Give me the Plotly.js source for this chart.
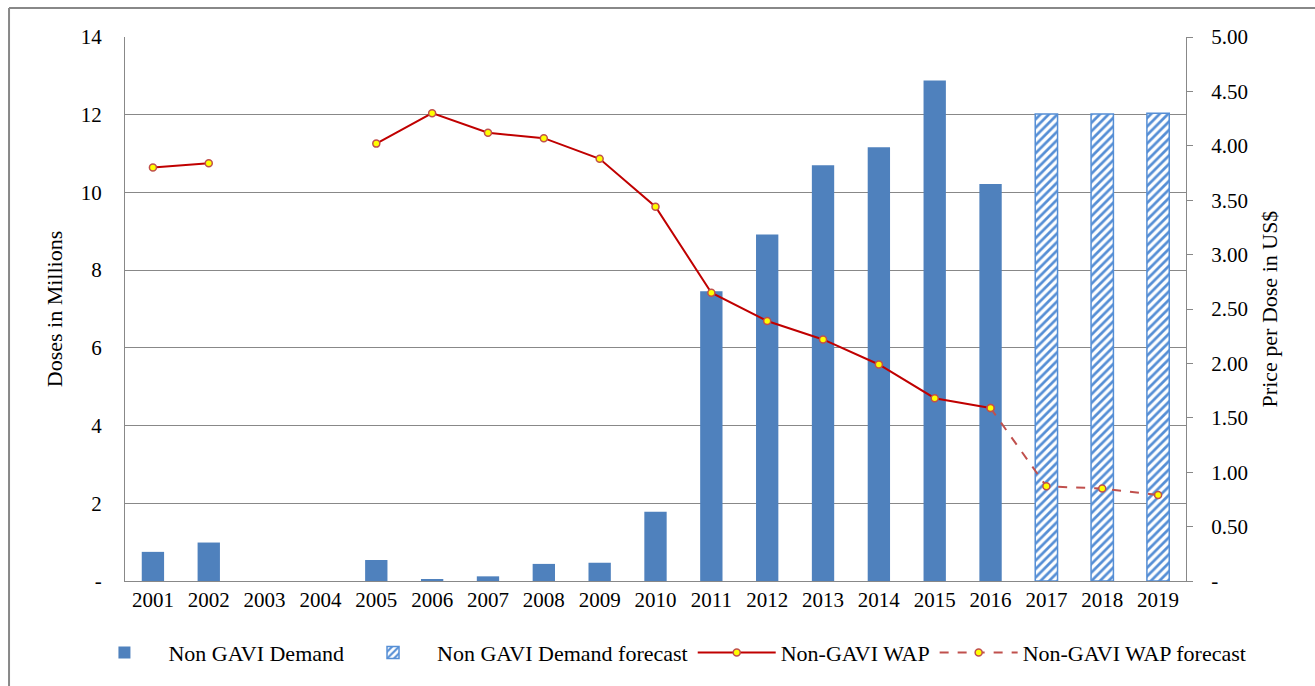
<!DOCTYPE html>
<html>
<head>
<meta charset="utf-8">
<script src="https://cdn.plot.ly/plotly-3.0.1.min.js"></script>
<style>
  html, body { margin: 0; padding: 0; background: #fff; }
  #plotDiv { width: 1315px; height: 686px; }
</style>
</head>
<body>
<div id="plotDiv"></div>
<script>
var years = ['2001','2002','2003','2004','2005','2006','2007','2008','2009','2010',
             '2011','2012','2013','2014','2015','2016','2017','2018','2019'];

// doses in millions (left axis)
var demandYears = ['2001','2002','2003','2004','2005','2006','2007','2008','2009','2010',
                   '2011','2012','2013','2014','2015','2016'];
var demand = [0.75, 0.99, 0, 0, 0.54, 0.05, 0.12, 0.44, 0.47, 1.78,
              7.46, 8.92, 10.7, 11.16, 12.88, 10.22];

var forecastYears = ['2017','2018','2019'];
var demandForecast = [12.02, 12.02, 12.04];

// price per dose in US$ (right axis)
var wap = [3.80, 3.84, null, null, 4.02, 4.30, 4.12, 4.07, 3.88, 3.44,
           2.65, 2.39, 2.22, 1.99, 1.68, 1.59];

var wapForecastYears = ['2016','2017','2018','2019'];
var wapForecast = [1.59, 0.87, 0.85, 0.79];

var leftTicks = [0, 2, 4, 6, 8, 10, 12, 14];
var leftTickText = ['-', '2', '4', '6', '8', '10', '12', '14'];
var rightTicks = [0, 0.5, 1, 1.5, 2, 2.5, 3, 3.5, 4, 4.5, 5];
var rightTickText = ['-', '0.50', '1.00', '1.50', '2.00', '2.50', '3.00', '3.50', '4.00', '4.50', '5.00'];

var markerStyle = {
  size: 7,
  color: '#ffff00',
  line: { color: '#c0504d', width: 1.5 }
};

var demandBars = {
  type: 'bar',
  name: 'Non GAVI Demand',
  x: demandYears,
  y: demand,
  width: 0.4,
  marker: { color: '#4f81bd' }
};

var forecastBars = {
  type: 'bar',
  name: 'Non GAVI Demand forecast',
  x: forecastYears,
  y: demandForecast,
  width: 0.4,
  marker: {
    color: '#ffffff',
    line: { color: '#558ed5', width: 1.5 },
    pattern: { shape: '/', fgcolor: '#558ed5', bgcolor: '#ffffff', size: 6, solidity: 0.45 }
  }
};

var wapLine = {
  type: 'scatter',
  mode: 'lines+markers',
  name: 'Non-GAVI WAP',
  x: demandYears,
  y: wap,
  yaxis: 'y2',
  connectgaps: false,
  line: { color: '#c00000', width: 2 },
  marker: markerStyle
};

var wapForecastLine = {
  type: 'scatter',
  mode: 'lines+markers',
  name: 'Non-GAVI WAP forecast',
  x: wapForecastYears,
  y: wapForecast,
  yaxis: 'y2',
  line: { color: '#c0504d', width: 2, dash: 'dash' },
  marker: markerStyle
};

var layout = {
  width: 1315,
  height: 686,
  margin: { l: 125, r: 129, t: 37, b: 105 },
  paper_bgcolor: '#ffffff',
  plot_bgcolor: '#ffffff',
  font: { family: 'Liberation Serif, Times New Roman, serif', size: 21, color: '#000' },
  barmode: 'overlay',
  showlegend: true,
  legend: {
    orientation: 'h',
    x: -0.042, xanchor: 'left',
    y: -0.132, yanchor: 'middle',
    font: { size: 22 },
    itemwidth: 78,
    traceorder: 'normal'
  },
  xaxis: {
    type: 'category',
    categoryorder: 'array',
    categoryarray: years,
    range: [-0.5, 18.5],
    showline: true,
    linecolor: '#888',
    linewidth: 1,
    ticks: '',
    showgrid: false,
    tickfont: { size: 21 }
  },
  yaxis: {
    range: [0, 14],
    tickvals: leftTicks,
    ticktext: leftTickText,
    showline: true,
    linecolor: '#888',
    linewidth: 1,
    showgrid: true,
    gridcolor: '#888',
    gridwidth: 1,
    zeroline: false,
    ticks: '',
    ticklabelstandoff: 18,
    tickfont: { size: 21 },
    title: { text: 'Doses in Millions', font: { size: 22 }, standoff: 12 }
  },
  yaxis2: {
    overlaying: 'y',
    side: 'right',
    range: [0, 5],
    tickvals: rightTicks,
    ticktext: rightTickText,
    showline: true,
    linecolor: '#888',
    linewidth: 1,
    showgrid: false,
    zeroline: false,
    ticks: 'outside',
    ticklen: 6,
    tickcolor: '#888',
    ticklabelstandoff: 14,
    tickfont: { size: 21 },
    title: { text: 'Price per Dose in US$', font: { size: 22 }, standoff: 14 }
  },
  shapes: [
    {
      type: 'line', xref: 'paper', yref: 'paper',
      x0: -0.1093, x1: 1.1216, y0: 1.0533, y1: 1.0533,
      line: { color: '#888', width: 2 }
    },
    {
      type: 'line', xref: 'paper', yref: 'paper',
      x0: -0.1093, x1: -0.1093, y0: 1.0533, y1: -0.193,
      line: { color: '#888', width: 2 }
    }
  ]
};

Plotly.newPlot('plotDiv', [demandBars, forecastBars, wapLine, wapForecastLine], layout, { displayModeBar: false });
</script>
</body>
</html>
